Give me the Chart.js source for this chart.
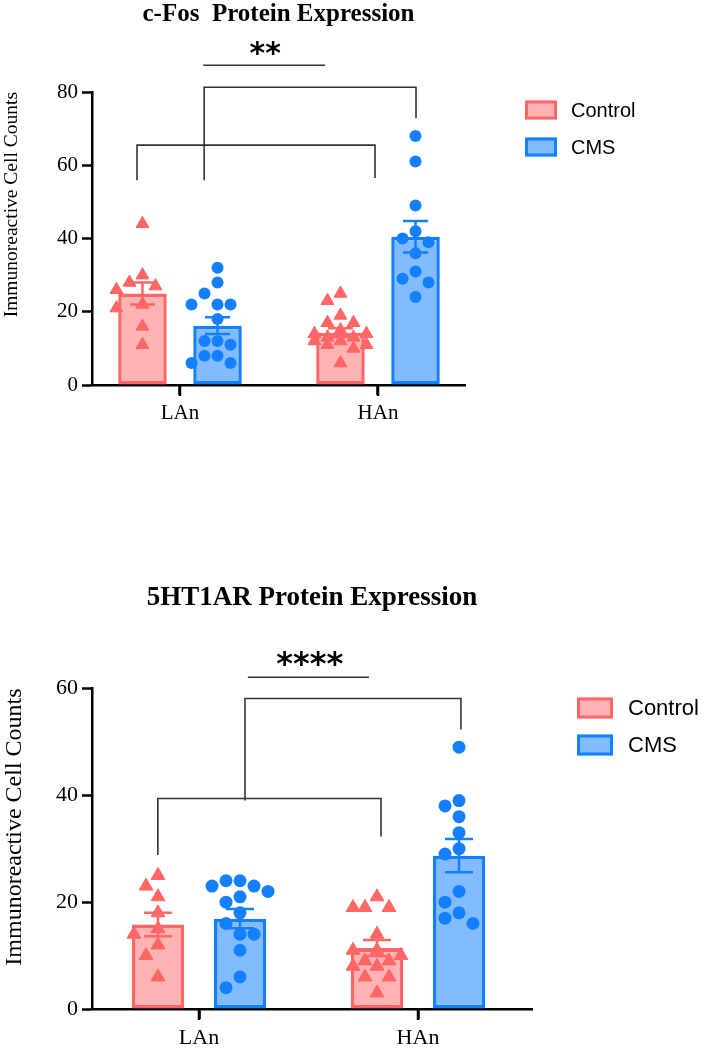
<!DOCTYPE html>
<html>
<head>
<meta charset="utf-8">
<script src="https://cdn.jsdelivr.net/npm/chart.js@4"></script>
<style>
  html, body { margin: 0; padding: 0; background: #fff; }
  body { width: 704px; height: 1050px; position: relative; overflow: hidden; }
  canvas { position: absolute; left: 0; }
</style>
</head>
<body>
<canvas id="cfos" width="704" height="440" style="top:0"></canvas>
<canvas id="htr" width="704" height="490" style="top:560px"></canvas>
<script>
const groups = ['LAn', 'HAn'];
const seriesNames = ['Control', 'CMS'];

// c-Fos: bar means, SEM and individual animals
const cfosControlMean = [25, 14.3];
const cfosCmsMean = [16.2, 40.5];
const cfosControlSem = [3.0, 1.2];
const cfosCmsSem = [2.3, 4.3];
const cfosControlLAn = [44, 30, 28, 27, 26, 22, 21, 16, 11];
const cfosControlHAn = [25, 23, 19, 17, 17, 15, 14, 14, 13, 13, 12, 12, 11, 11, 10, 6];
const cfosCmsLAn = [32, 28, 25, 22, 22, 22, 18, 12, 12, 11, 8, 8, 6, 6];
const cfosCmsHAn = [68, 61, 49, 42, 40, 39, 36, 31, 29, 28, 24];
const cfosTicks = [0, 20, 40, 60, 80];

// 5HT1AR
const htrControlMean = [15.8, 11.4];
const htrCmsMean = [16.9, 28.7];
const htrControlSem = [2.2, 1.5];
const htrCmsSem = [1.8, 3.1];
const htrControlLAn = [25, 23, 21, 18, 15, 14, 12, 10, 6];
const htrControlHAn = [21, 19, 19, 19, 14, 11, 11, 10, 9, 9, 8, 8, 6, 6, 3];
const htrCmsLAn = [24, 24, 23, 23, 22, 21, 20, 18, 16, 14, 14, 11, 6, 4];
const htrCmsHAn = [49, 39, 38, 36, 33, 30, 29, 22, 20, 18, 17, 16];
const htrTicks = [0, 20, 40, 60];

const col = {
  ctrlFill: '#FFB3B3', ctrlLine: '#FF6666',
  cmsFill: '#82BBFF', cmsLine: '#1580FF'
};

Chart.defaults.font.family = 'Liberation Serif';
Chart.defaults.color = '#000';

// error bars, x tick marks, significance brackets and the legend
const extras = {
  id: 'extras',
  afterDatasetDraw(chart, args) {
    const ds = chart.data.datasets[args.index];
    if (!ds.sem) return;
    const o = chart.options.plugins.extras;
    const ctx = chart.ctx, ys = chart.scales.y;
    ctx.save();
    ctx.strokeStyle = ds.borderColor;
    ctx.lineWidth = o.errWidth;
    args.meta.data.forEach((bar, i) => {
      const m = ds.data[i].y, s = ds.sem[i];
      const yt = ys.getPixelForValue(m + s), yb = ys.getPixelForValue(m - s);
      ctx.beginPath();
      ctx.moveTo(bar.x, yt); ctx.lineTo(bar.x, yb);
      ctx.moveTo(bar.x - o.cap / 2, yt); ctx.lineTo(bar.x + o.cap / 2, yt);
      ctx.moveTo(bar.x - o.cap / 2, yb); ctx.lineTo(bar.x + o.cap / 2, yb);
      ctx.stroke();
    });
    ctx.restore();
  },
  afterDraw(chart) {
    const o = chart.options.plugins.extras;
    const ctx = chart.ctx, xs = chart.scales.x, ys = chart.scales.y;
    const X = v => xs.getPixelForValue(v), Y = v => ys.getPixelForValue(v);
    ctx.save();

    // category tick marks under the x axis
    ctx.strokeStyle = '#000';
    ctx.lineWidth = 2.5;
    ctx.beginPath();
    xs.ticks.forEach((t, i) => {
      const px = Math.round(xs.getPixelForTick(i));
      ctx.moveTo(px, xs.top);
      ctx.lineTo(px, xs.top + 11);
    });
    ctx.stroke();

    ctx.strokeStyle = '#333';
    ctx.lineWidth = 1.6;
    o.brackets.forEach(b => {
      ctx.beginPath();
      ctx.moveTo(X(b[0]), Y(b[3]));
      ctx.lineTo(X(b[0]), Y(b[2]));
      ctx.lineTo(X(b[1]), Y(b[2]));
      ctx.lineTo(X(b[1]), Y(b[4]));
      ctx.stroke();
    });
    const st = o.star;
    ctx.beginPath();
    ctx.moveTo(X(st.x1), Y(st.y));
    ctx.lineTo(X(st.x2), Y(st.y));
    ctx.stroke();
    ctx.fillStyle = '#000';
    ctx.font = 'bold ' + st.size + 'px "DejaVu Sans"';
    ctx.textAlign = 'center';
    ctx.textBaseline = 'middle';
    ctx.fillText(st.text, X(st.tx), Y(st.ty));

    // legend
    const lg = o.legend;
    ctx.font = lg.size + 'px "Liberation Sans"';
    ctx.textAlign = 'left';
    chart.data.datasets.filter(d => d.sem).forEach((d, i) => {
      const cy = lg.y + i * lg.gap;
      ctx.fillStyle = d.backgroundColor;
      ctx.fillRect(lg.x, cy - lg.bh / 2, lg.bw, lg.bh);
      ctx.strokeStyle = d.borderColor;
      ctx.lineWidth = 3;
      ctx.strokeRect(lg.x + 1.5, cy - lg.bh / 2 + 1.5, lg.bw - 3, lg.bh - 3);
      ctx.fillStyle = '#000';
      ctx.fillText(d.label, lg.tx, cy + 1);
    });
    ctx.restore();
  }
};

// spread points sideways where they would overlap, like a swarm
function swarm(chart, xc, values, step, dist, maxSteps) {
  const xs = chart.scales.x, ys = chart.scales.y;
  const pxc = xs.getPixelForValue(xc);
  const placed = [];
  return values.slice().sort((a, b) => b - a).map(v => {
    const py = ys.getPixelForValue(v);
    let best = 0, bestD = -1;
    for (let k = 0; k <= maxSteps * 2; k++) {
      const s = k === 0 ? 0 : (k % 2 ? -Math.ceil(k / 2) : Math.ceil(k / 2));
      const px = s * step;
      let dmin = Infinity;
      placed.forEach(p => { dmin = Math.min(dmin, Math.hypot(p.px - px, p.py - py)); });
      if (dmin >= dist) { best = px; bestD = dmin; break; }
      if (dmin > bestD) { bestD = dmin; best = px; }
    }
    placed.push({ px: best, py });
    return { x: xs.getValueForPixel(pxc + best), y: v };
  });
}

function build(id, o) {
  const chart = new Chart(document.getElementById(id), {
    type: 'bar',
    data: {
      datasets: [
        { label: seriesNames[0], data: o.ctrlMean.map((v, i) => ({ x: i + 1, y: v })), sem: o.ctrlSem,
          backgroundColor: col.ctrlFill, borderColor: col.ctrlLine, borderWidth: o.barBorder,
          borderSkipped: false, order: 2 },
        { label: seriesNames[1], data: o.cmsMean.map((v, i) => ({ x: i + 1, y: v })), sem: o.cmsSem,
          backgroundColor: col.cmsFill, borderColor: col.cmsLine, borderWidth: o.barBorder,
          borderSkipped: false, order: 2 },
        { type: 'scatter', data: [], pointStyle: 'triangle', pointRadius: o.triR,
          backgroundColor: col.ctrlLine, borderColor: col.ctrlLine, borderWidth: 1, order: 1 },
        { type: 'scatter', data: [], pointStyle: 'circle', pointRadius: o.dotR,
          backgroundColor: col.cmsLine, borderColor: col.cmsLine, borderWidth: 0, order: 1 }
      ]
    },
    options: {
      responsive: false,
      animation: false,
      categoryPercentage: o.catPct,
      barPercentage: o.barPct,
      layout: { padding: { left: 0, right: o.padRight, top: 0, bottom: 0 } },
      plugins: {
        legend: { display: false },
        tooltip: { enabled: false },
        title: {
          display: true, text: o.title, fullSize: false, color: '#000',
          font: { family: 'Liberation Serif', size: o.titleSize, weight: 'bold', lineHeight: 1.2 },
          padding: { top: o.titleTop, bottom: o.titleBottom }
        },
        extras: o.extras
      },
      scales: {
        x: {
          type: 'linear', min: o.xMin, max: o.xMax, offset: false,
          afterBuildTicks: s => { s.ticks = groups.map((g, i) => ({ value: i + 1 })); },
          afterFit: s => { s.height = o.xHeight; },
          ticks: { callback: v => groups[v - 1], autoSkip: false, maxRotation: 0,
                   font: { size: o.tickSize }, color: '#000', padding: o.xPad },
          grid: { offset: false, drawOnChartArea: false, drawTicks: true, tickLength: 10, tickWidth: 2.5, tickColor: '#000' },
          border: { display: true, color: '#000', width: 2.5 }
        },
        y: {
          min: 0, max: o.ticks[o.ticks.length - 1],
          afterBuildTicks: s => { s.ticks = o.ticks.map(v => ({ value: v })); },
          afterFit: s => { s.width = 92; },
          ticks: { font: { size: o.tickSize }, color: '#000', padding: 4 },
          grid: { drawOnChartArea: false, drawTicks: true, tickLength: 10, tickWidth: 2.5, tickColor: '#000' },
          border: { display: true, color: '#000', width: 2.5 },
          title: { display: true, text: 'Immunoreactive Cell Counts', align: 'end', color: '#000',
                   font: { size: o.yTitleSize }, padding: { top: 0 } }
        }
      }
    },
    plugins: [extras]
  });

  // place the individual points over their bars
  const xs = chart.scales.x;
  const ctrlBars = chart.getDatasetMeta(0).data, cmsBars = chart.getDatasetMeta(1).data;
  const ctrlPts = [], cmsPts = [];
  o.ctrlPoints.forEach((vals, i) => ctrlPts.push(...swarm(chart, xs.getValueForPixel(ctrlBars[i].x), vals, o.triStep, o.triDist, 2)));
  o.cmsPoints.forEach((vals, i) => cmsPts.push(...swarm(chart, xs.getValueForPixel(cmsBars[i].x), vals, o.dotStep, o.dotStep - 1, 2)));
  chart.data.datasets[2].data = ctrlPts;
  chart.data.datasets[3].data = cmsPts;
  chart.update('none');
  return chart;
}

build('cfos', {
  title: 'c-Fos  Protein Expression', titleSize: 25, titleTop: 0, titleBottom: 62,
  ctrlMean: cfosControlMean, cmsMean: cfosCmsMean, ctrlSem: cfosControlSem, cmsSem: cfosCmsSem,
  ctrlPoints: [cfosControlLAn, cfosControlHAn], cmsPoints: [cfosCmsLAn, cfosCmsHAn],
  ticks: cfosTicks, tickSize: 21, yTitleSize: 19.5,
  xMin: 0.5556, xMax: 2.4394, padRight: 239, xHeight: 55, xPad: 6,
  catPct: 0.758, barPct: 0.647, barBorder: 3.5,
  triR: 7.5, dotR: 6, triStep: 13, triDist: 14, dotStep: 13,
  extras: {
    errWidth: 2.5, cap: 25,
    brackets: [[0.783, 1.985, 65.5, 55.9, 56.5], [1.122, 2.192, 81.3, 55.9, 72.8]],
    star: { text: '**', x1: 1.117, x2: 1.733, y: 87.3, tx: 1.43, ty: 90, size: 30 },
    legend: { x: 525, y: 110, gap: 37, bw: 32, bh: 19, tx: 571, size: 20 }
  }
});

build('htr', {
  title: '5HT1AR Protein Expression', titleSize: 27, titleTop: 22, titleBottom: 74,
  ctrlMean: htrControlMean, cmsMean: htrCmsMean, ctrlSem: htrControlSem, cmsSem: htrCmsSem,
  ctrlPoints: [htrControlLAn, htrControlHAn], cmsPoints: [htrCmsLAn, htrCmsHAn],
  ticks: htrTicks, tickSize: 22, yTitleSize: 24,
  xMin: 0.5114, xMax: 2.5205, padRight: 172, xHeight: 41, xPad: 6,
  catPct: 0.749, barPct: 0.64, barBorder: 3.8,
  triR: 8, dotR: 6.5, triStep: 12, triDist: 16, dotStep: 14,
  extras: {
    errWidth: 2.5, cap: 28,
    brackets: [[0.812, 1.831, 39.4, 28.8, 32.3], [1.21, 2.196, 58.1, 39, 52.3]],
    star: { text: '****', x1: 1.223, x2: 1.776, y: 62.1, tx: 1.506, ty: 64.3, size: 32 },
    legend: { x: 577, y: 148, gap: 37, bw: 36, bh: 21, tx: 628, size: 22 }
  }
});
</script>
</body>
</html>
